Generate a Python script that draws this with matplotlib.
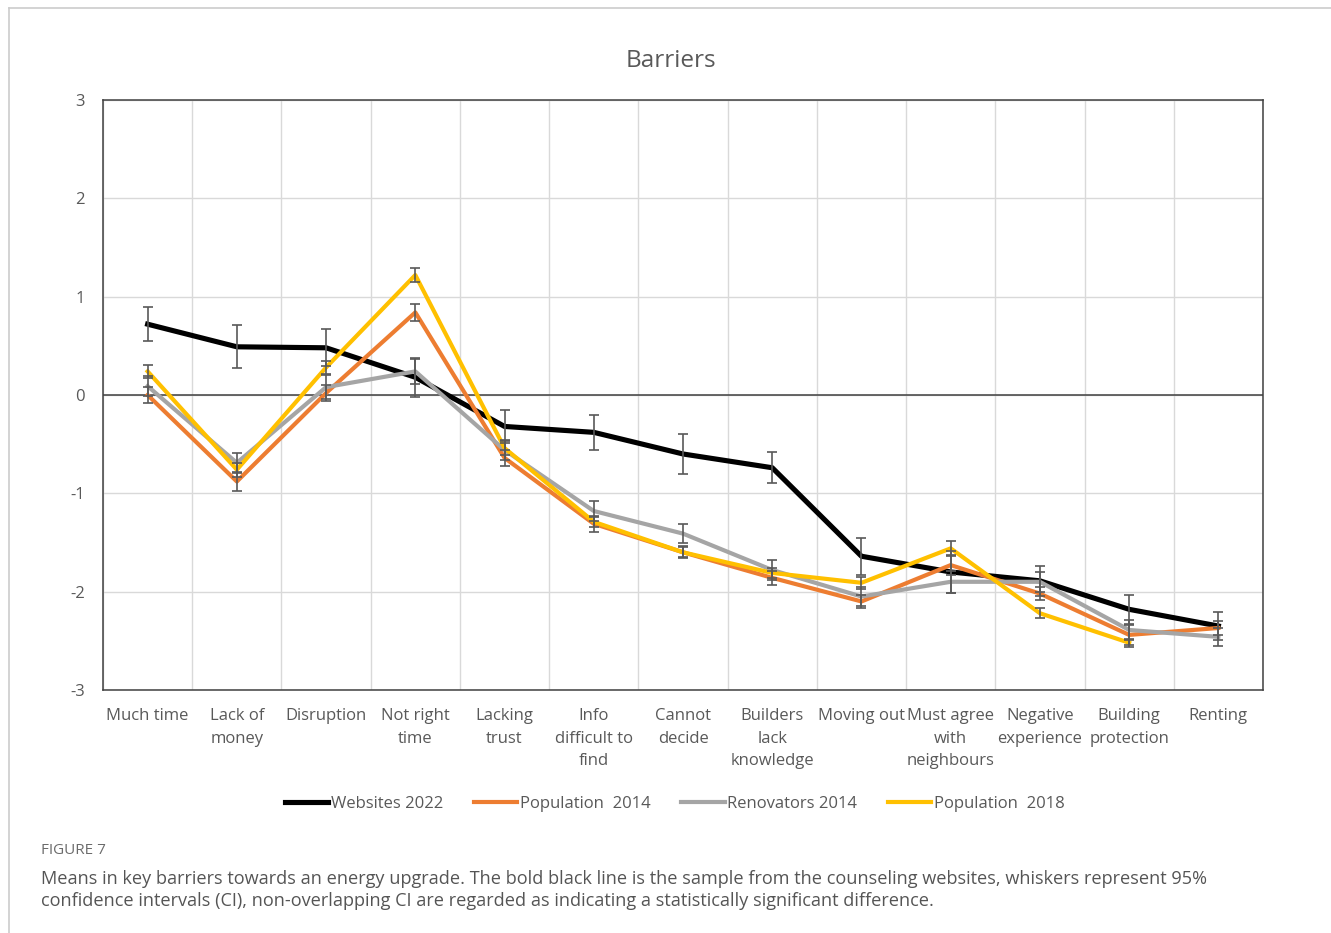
import matplotlib.pyplot as plt
import matplotlib.lines as mlines
import numpy as np

# DATA
barriers = ['Much time', 'Lack of\nmoney', 'Disruption', 'Not right\ntime', 'Lacking\ntrust',
            'Info\ndifficult to\nfind', 'Cannot\ndecide', 'Builders\nlack\nknowledge', 'Moving out',
            'Must agree\nwith\nneighbours', 'Negative\nexperience', 'Building\nprotection', 'Renting']

websites_2022 = [0.72, 0.49, 0.48, 0.18, -0.32, -0.38, -0.60, -0.74, -1.64, -1.80, -1.89, -2.18, -2.35]
websites_2022_ci = [0.17, 0.22, 0.19, 0.20, 0.17, 0.18, 0.20, 0.16, 0.19, 0.21, 0.15, 0.15, 0.14]

population_2014 = [0.00, -0.88, 0.02, 0.84, -0.64, -1.31, -1.60, -1.86, -2.10, -1.73, -2.02, -2.44, -2.37]
population_2014_ci = [0.08, 0.10, 0.08, 0.09, 0.08, 0.08, 0.06, 0.07, 0.07, 0.10, 0.07, 0.10, 0.07]

renovators_2014 = [0.09, -0.69, 0.08, 0.24, -0.56, -1.18, -1.41, -1.78, -2.05, -1.90, -1.90, -2.39, -2.46]
renovators_2014_ci = [0.10, 0.10, 0.12, 0.13, 0.10, 0.10, 0.10, 0.10, 0.10, 0.11, 0.10, 0.10, 0.09]

population_2018 = [0.24, -0.76, 0.28, 1.22, -0.54, -1.29, -1.60, -1.81, -1.91, -1.56, -2.22, -2.52, np.nan]
population_2018_ci = [0.07, 0.07, 0.07, 0.07, 0.07, 0.05, 0.05, 0.05, 0.06, 0.08, 0.05, 0.04, np.nan]

series = [
    ('Websites 2022', websites_2022, websites_2022_ci, '#000000', 3.7),
    ('Population  2014', population_2014, population_2014_ci, '#ED7D31', 3.0),
    ('Renovators 2014', renovators_2014, renovators_2014_ci, '#A5A5A5', 3.0),
    ('Population  2018', population_2018, population_2018_ci, '#FFC000', 3.0),
]

TEXT = '#595959'
plt.rcParams['font.family'] = ['Open Sans', 'DejaVu Sans']
plt.rcParams['axes.unicode_minus'] = False

fig = plt.figure(figsize=(13.31, 9.33), dpi=100)
ax = fig.add_axes([0.0774, 0.2605, 0.8715, 0.6323])

x = np.arange(len(barriers))
for name, vals, ci, color, lw in series:
    ax.plot(x, vals, color=color, lw=lw, label=name, solid_joinstyle='round', zorder=3)
for name, vals, ci, color, lw in series:
    ax.errorbar(x, vals, yerr=ci, fmt='none', ecolor='#595959', elinewidth=1.2,
                capsize=3.5, capthick=1.2, zorder=4)

ax.axhline(0, color='#404040', lw=1.1, zorder=2)
ax.set_xlim(-0.5, len(barriers) - 0.5)
ax.set_ylim(-3, 3)
ax.set_yticks([-3, -2, -1, 0, 1, 2, 3])
ax.set_xticks(x)
ax.set_xticklabels(barriers, fontsize=12, color=TEXT, linespacing=1.55, va='top')
ax.set_xticks(np.arange(len(barriers) + 1) - 0.5, minor=True)
ax.tick_params(axis='x', which='both', length=0, pad=13)
ax.tick_params(axis='y', length=0, pad=13, labelsize=12, labelcolor=TEXT)
ax.grid(True, which='minor', axis='x', color='#d9d9d9', lw=1)
ax.grid(True, which='major', axis='y', color='#d9d9d9', lw=1)
ax.set_axisbelow(True)
for sp in ax.spines.values():
    sp.set_color('#404040')
    sp.set_linewidth(1.1)

fig.text(0.504, 1 - 61 / 933, 'Barriers', ha='center', va='center', fontsize=17.5, color=TEXT)

handles, labels = ax.get_legend_handles_labels()
fig.legend(handles, labels, loc='center', bbox_to_anchor=(0.507, 1 - 804 / 933), ncol=4, frameon=False,
           fontsize=12, labelcolor=TEXT, handlelength=2.6, handletextpad=0.15, columnspacing=1.85)

# caption under the chart
fig.text(41 / 1331, 1 - 851 / 933, 'FIGURE 7', fontsize=11, color='#6b6b6b', va='center')
fig.text(41 / 1331, 1 - 890 / 933,
         'Means in key barriers towards an energy upgrade. The bold black line is the sample from the counseling websites, whiskers represent 95%\n'
         'confidence intervals (CI), non-overlapping CI are regarded as indicating a statistically significant difference.',
         fontsize=13.1, color='#555555', va='center', linespacing=1.32)

# page frame
fig.add_artist(mlines.Line2D([9 / 1331, 9 / 1331], [0, 1 - 8 / 933], color='#cccccc', lw=1.2))
fig.add_artist(mlines.Line2D([9 / 1331, 1], [1 - 8 / 933, 1 - 8 / 933], color='#cccccc', lw=1.2))

fig.savefig('out.png', dpi=100)
